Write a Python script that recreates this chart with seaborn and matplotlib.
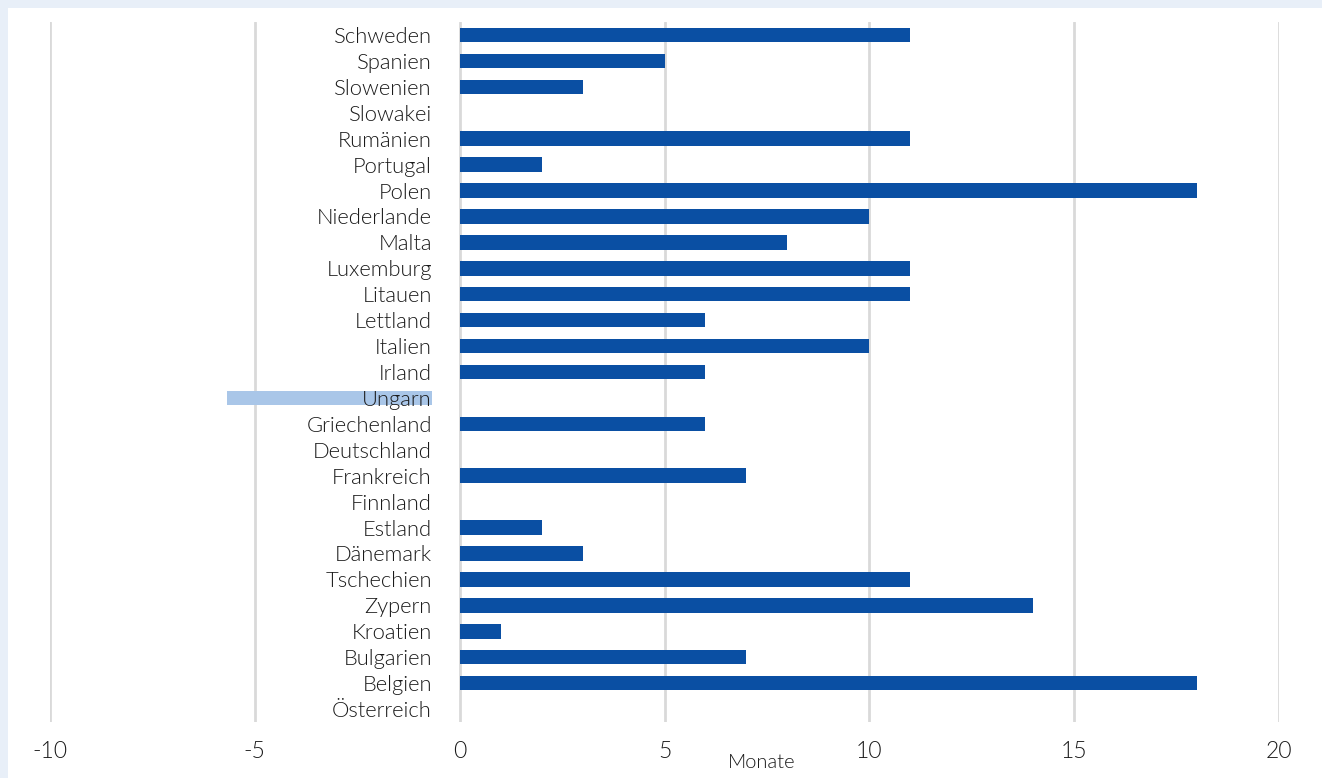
import matplotlib
matplotlib.use("Agg")
import matplotlib.pyplot as plt
from matplotlib.patches import Rectangle
import seaborn as sns
import pandas as pd

# data (top to bottom as in the chart)
countries = ["Schweden", "Spanien", "Slowenien", "Slowakei", "Rumänien", "Portugal",
             "Polen", "Niederlande", "Malta", "Luxemburg", "Litauen", "Lettland",
             "Italien", "Irland", "Ungarn", "Griechenland", "Deutschland", "Frankreich",
             "Finnland", "Estland", "Dänemark", "Tschechien", "Zypern", "Kroatien",
             "Bulgarien", "Belgien", "Österreich"]
months = [11, 5, 3, 0, 11, 2, 18, 10, 8, 11, 11, 6, 10, 6, -5, 6, 0, 7, 0, 2, 3,
          11, 14, 1, 7, 18, 0]
x_ticks = [-10, -5, 0, 5, 10, 15, 20]
x_label = "Monate"

BLUE = "#0a4fa3"
LIGHT = "#a9c6e8"
TEXT = "#1a1a1a"
LABEL_X = -0.68  # where the category labels end (data units)

sns.set_style("white")
plt.rcParams["font.family"] = ["Lato", "DejaVu Sans"]
plt.rcParams["font.weight"] = 300

df = pd.DataFrame({"land": countries, "monate": months})
colors = [LIGHT if v < 0 else BLUE for v in months]

fig = plt.figure(figsize=(13.22, 7.78), dpi=100, facecolor="#e8eff8")
fig.patches.append(Rectangle((8 / 1322, 0), 1, 1 - 8 / 778, transform=fig.transFigure,
                             facecolor="white", edgecolor="none", zorder=-5))
ax = fig.add_axes([50 / 1322, 56 / 778, 1229 / 1322, 700 / 778])
ax.set_facecolor("none")

sns.barplot(data=df, x="monate", y="land", hue="land", palette=colors,
            orient="h", width=0.56, saturation=1, linewidth=0,
            legend=False, ax=ax, zorder=2)

# negative bar is drawn from the label edge (as in the source chart)
for p, v in zip(ax.patches, months):
    if v < 0:
        p.set_x(p.get_x() + LABEL_X)
        p.set_zorder(1)

for i, name in enumerate(countries):
    ax.text(LABEL_X, i, name, ha="right", va="center_baseline", fontsize=15.8,
            color=TEXT, zorder=3)

ax.set_xlim(-10, 20)
ax.set_ylim(len(countries) - 0.5, -0.5)
ax.set_xticks(x_ticks)
ax.set_xticklabels([str(t) for t in x_ticks])
ax.set_yticks([])
ax.set_ylabel("")
ax.set_xlabel("")
ax.tick_params(axis="x", length=0, pad=14, labelsize=16.5, labelcolor=TEXT)
ax.grid(axis="x", color="#d9d9d9", linewidth=2, zorder=0)
ax.set_axisbelow(True)
for s in ax.spines.values():
    s.set_visible(False)

fig.text(762 / 1322, 1 - 763 / 778, x_label, ha="center", va="center",
         fontsize=14.5, color=TEXT)

fig.savefig("out.png", dpi=100, facecolor=fig.get_facecolor())
